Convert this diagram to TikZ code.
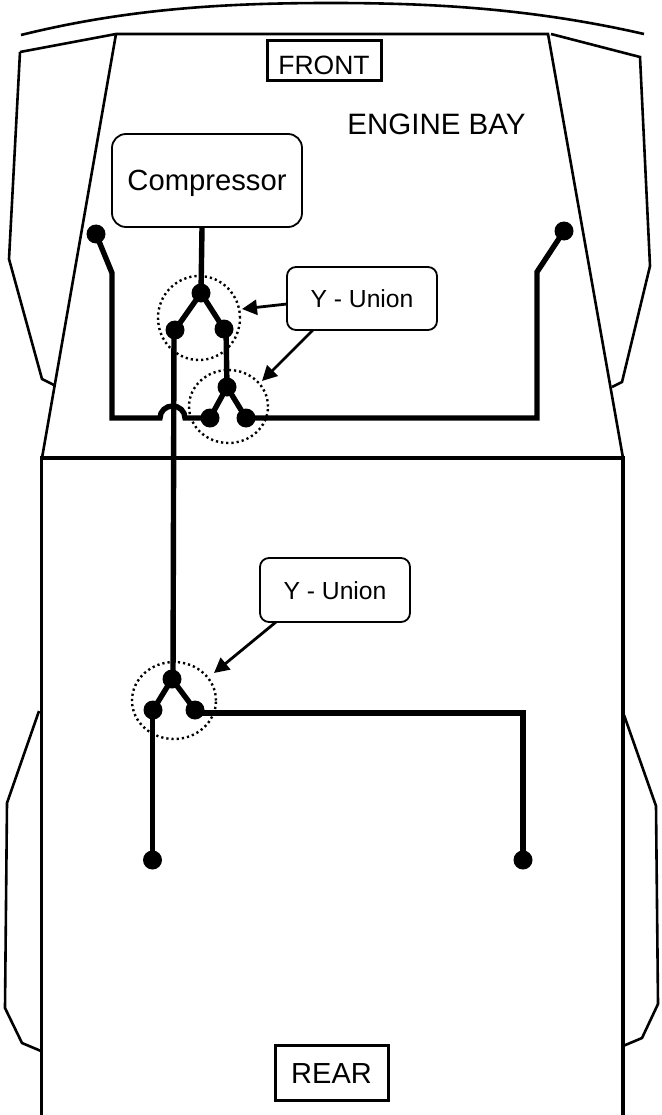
\documentclass[tikz,border=0pt]{standalone}
\usepackage{fontspec}
\setmainfont{Liberation Sans}
\usetikzlibrary{arrows.meta,shapes.geometric}
\tikzset{
 x=1pt,y=-1pt,
 outline/.style={line width=2.6pt,line join=miter},
 heavyline/.style={line width=3.4pt,line join=miter},
 pipe/.style={line width=5.4pt,line join=miter,line cap=butt},
 joint/.style={circle,fill=black,inner sep=0pt,minimum size=19pt},
 zone/.style={ellipse,draw,line width=2.4pt,dash pattern=on 2.2pt off 3pt,inner sep=0pt},
 label/.style={draw,line width=1.8pt,rounded corners=9pt,inner sep=0pt,text height=18pt,text depth=0pt,font=\fontsize{24.7}{28}\selectfont},
 tag/.style={draw,line width=3pt,inner sep=0pt},
 pointer/.style={line width=2.8pt,-{Triangle[length=15pt,width=15pt]}},
}
\begin{document}
\begin{tikzpicture}
\useasboundingbox (0,0) rectangle (661,1115);
\fill[white] (0,0) rectangle (661,1115);
% body
\draw[outline] (21,35) .. controls (130,8) and (230,3) .. (331,3) .. controls (430,3) and (530,8) .. (644,34);
\draw[outline] (20,52) -- (116,34) -- (548,34) -- (623,458);
\draw[outline] (116,34) -- (42,458);
\draw[outline] (551,34) -- (640,57) -- (650,266) -- (622,382) -- (612,387);
\draw[outline] (20,52) -- (9,259) -- (42,379) -- (54,385);
\draw[heavyline] (41.5,1115) -- (41.5,458) -- (623,458) -- (623,1115);
\draw[outline] (39,711) -- (7,803) -- (5,1008) -- (22,1043) -- (41,1051);
\draw[outline] (624,715) -- (656,806) -- (658,1004) -- (642,1038) -- (623,1046);
% zones
\node[zone,minimum width=82pt,minimum height=84pt] (z1) at (199,318) {};
\node[zone,minimum width=79pt,minimum height=73pt] (z2) at (228.5,406.5) {};
\node[zone,minimum width=84pt,minimum height=77pt] (z3) at (174,700.5) {};
% boxes
\node[draw,line width=1.8pt,rounded corners=14pt,minimum width=190pt,minimum height=93pt,inner sep=0pt,text height=21pt,text depth=0pt,font=\fontsize{29.2}{34}\selectfont] (comp) at (207,180.5) {Compressor};
\node[label,minimum width=150pt,minimum height=63pt] (u1) at (362,298.5) {Y - Union};
\node[label,minimum width=150pt,minimum height=64pt] (u2) at (335,590) {Y - Union};
\node[tag,minimum width=114pt,minimum height=40pt,text height=28pt,text depth=0pt,font=\fontsize{26.5}{32}\selectfont] (front) at (324,61) {FRONT};
\node[tag,minimum width=113pt,minimum height=55pt,text height=21pt,text depth=0pt,font=\fontsize{29}{34}\selectfont] (rear) at (331.5,1072.5) {REAR};
\node[font=\fontsize{29.5}{34}\selectfont,inner sep=0pt,text height=21pt,text depth=0pt] (bay) at (436.5,124) {ENGINE BAY};
% joints
\node[joint] (a) at (201,293) {};
\node[joint] (b) at (175,330) {};
\node[joint] (c) at (224,329) {};
\node[joint] (d) at (227,387) {};
\node[joint] (e) at (210,418) {};
\node[joint] (f) at (246,418) {};
\node[joint] (g) at (172,679) {};
\node[joint] (h) at (153,710) {};
\node[joint] (i) at (195,710) {};
\node[joint] (l) at (96,234) {};
\node[joint] (r) at (564,231) {};
\node[joint] (p) at (152.5,860) {};
\node[joint] (q) at (523,860) {};
\coordinate (s) at (202,228);
\coordinate (b0) at (174,330);
\coordinate (g0) at (173,679);
\coordinate (l1) at (112,273);
\coordinate (l2) at (112,418);
\coordinate (b1) at (160,418);
\coordinate (b2) at (185,418);
\coordinate (r1) at (537,272);
\coordinate (r2) at (537,418);
\coordinate (q1) at (523,713);
\coordinate (i1) at (195,713);
\coordinate (h0) at (152.5,710);
\coordinate (c0) at (226,329);
\coordinate (d0) at (227,387);
% pipes
\draw[pipe] (s) -- (a.center);
\draw[pipe] (a.center) -- (b.center);
\draw[pipe] (a.center) -- (c.center);
\draw[pipe] (c0) -- (d0);
\draw[pipe] (d.center) -- (e.center);
\draw[pipe] (d.center) -- (f.center);
\draw[pipe] (b0) -- (g0);
\draw[pipe] (g.center) -- (h.center);
\draw[pipe] (g.center) -- (i.center);
\draw[pipe] (h0) -- (p.center);
\draw[pipe] (i1) -- (q1) -- (q.center);
\draw[pipe] (l.center) -- (l1) -- (l2) -- (b1) arc[start angle=180,end angle=360,x radius=12.5,y radius=12] -- (e.center);
\draw[pipe] (f.center) -- (r2) -- (r1) -- (r.center);
% pointers
\coordinate (t1) at (242,309);
\coordinate (t2) at (262,381);
\coordinate (t3) at (214,673);
\coordinate (o1) at (287,304);
\coordinate (o2) at (313,330);
\coordinate (o3) at (276,622);
\draw[pointer] (o1) -- (t1);
\draw[pointer] (o2) -- (t2);
\draw[pointer] (o3) -- (t3);
\end{tikzpicture}
\end{document}
